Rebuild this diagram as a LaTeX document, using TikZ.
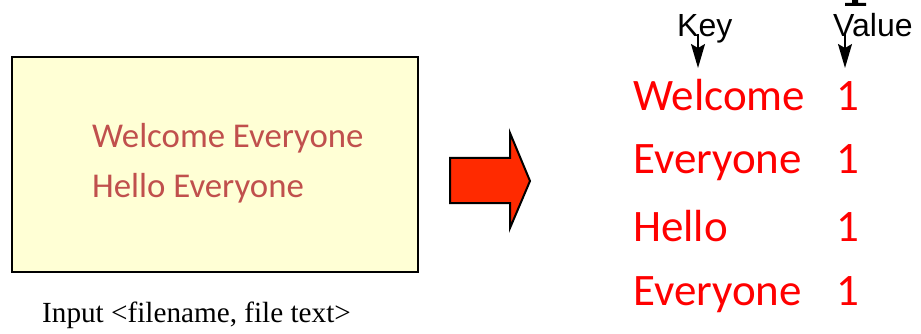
\documentclass[tikz,border=0pt]{standalone}
\usepackage{fontspec}
\setmainfont{Liberation Sans}
\newfontfamily\calfont{Carlito}
\newfontfamily\timesfont{Liberation Serif}
\usetikzlibrary{arrows.meta}
\definecolor{boxfill}{HTML}{FFFFD5}
\definecolor{boxtext}{HTML}{C0504D}
\definecolor{arrowred}{HTML}{FF2A00}
\begin{document}
\begin{tikzpicture}[x=1pt,y=-1pt,
  boxline/.style={inner sep=0pt, anchor=base west, text=boxtext, font=\calfont\fontsize{34.8}{40}\selectfont},
  kvtext/.style={inner sep=0pt, anchor=base west, text=red, font=\calfont\fontsize{45}{50}\selectfont},
  labeltext/.style={inner sep=0pt, anchor=base west, font=\fontsize{32}{36}\selectfont},
  pointer/.style={line width=1.5pt, -{Stealth[length=24pt,width=14pt,inset=4pt]}}]
\useasboundingbox (0,0) rectangle (921,334);
% cropped title fragment
\fill[black] (852,0) -- (858,0) -- (858,3) -- (866,3) -- (866,6) -- (845,6) -- (845,3) -- (852,3) -- cycle;
% input box
\node[draw, fill=boxfill, line width=2pt, minimum width=406pt, minimum height=215pt, anchor=north west, inner sep=0pt] (inbox) at (11,56) {};
\node[boxline] (l1) at (92,147) {Welcome Everyone};
\node[boxline] (l2) at (92,197) {Hello Everyone};
\node[inner sep=0pt, anchor=base west, font=\timesfont\fontsize{29.2}{34}\selectfont] (cap) at (42,322) {Input <filename, file text>};
% big arrow
\draw[fill=arrowred, line width=2pt, line join=miter] (450,158) -- (510,158) -- (510,133) -- (530,181) -- (510,228) -- (510,203) -- (450,203) -- cycle;
% key / value
\node[labeltext] (key) at (677,37) {Key};
\node[labeltext] (val) at (833,37) {Value};
\coordinate (kt) at (698,34);
\coordinate (kh) at (698,68);
\coordinate (vt) at (845,34);
\coordinate (vh) at (845,68);
\draw[pointer] (kt) -- (kh);
\draw[pointer] (vt) -- (vh);
% key value pairs
\node[kvtext] (k1) at (633,111) {Welcome};
\node[kvtext] (k2) at (633,173) {Everyone};
\node[kvtext] (k3) at (633,241) {Hello};
\node[kvtext] (k4) at (633,305) {Everyone};
\node[kvtext] (v1) at (836,111) {1};
\node[kvtext] (v2) at (836,173) {1};
\node[kvtext] (v3) at (836,241) {1};
\node[kvtext] (v4) at (836,305) {1};
\end{tikzpicture}
\end{document}
